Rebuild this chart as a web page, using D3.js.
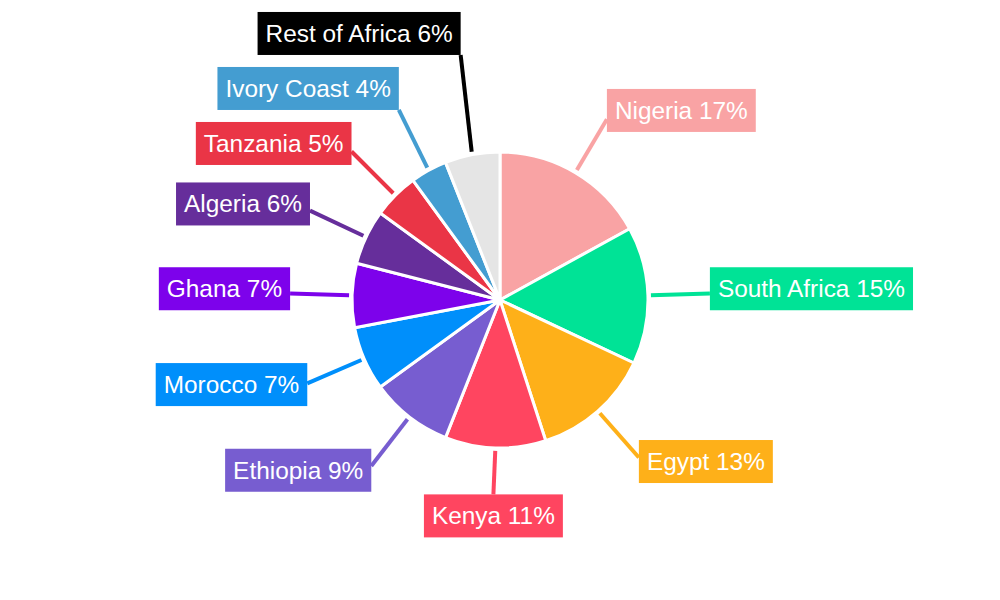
<!DOCTYPE html>
<html>
<head>
<meta charset="utf-8">
<script src="https://cdn.jsdelivr.net/npm/d3@7"></script>
<style>
  body { margin: 0; background: #fff; }
  svg { display: block; font-family: "Liberation Sans", Arial, sans-serif; }
</style>
</head>
<body>
<div id="chart"></div>
<script>
// pie of market share by country, labels outside with leader lines

const width = 1000;
const height = 600;

const countries = ["Nigeria", "South Africa", "Egypt", "Kenya", "Ethiopia", "Morocco",
                   "Ghana", "Algeria", "Tanzania", "Ivory Coast", "Rest of Africa"];
const shares = [17, 15, 13, 11, 9, 7, 7, 6, 5, 4, 6];
const sliceColors = ["#f9a3a4", "#00e396", "#feb019", "#ff4560", "#775dd0", "#008ffb",
                     "#7d02eb", "#662e9b", "#ea3546", "#449dd1", "#e5e5e5"];
const labelColors = ["#f9a3a4", "#00e396", "#feb019", "#ff4560", "#775dd0", "#008ffb",
                     "#7d02eb", "#662e9b", "#ea3546", "#449dd1", "#000000"];

const cx = 500, cy = 300;
const radius = 148;
const lineStart = 151;   // leader lines start just outside the pie
const labelRadius = 210; // where the label boxes sit
const pad = 8;           // padding inside label box
const gap = 12;          // min vertical gap between stacked boxes

const svg = d3.select("#chart")
  .append("svg")
  .attr("width", width)
  .attr("height", height);

const pie = d3.pie().sort(null).value(d => d);
const arcs = pie(shares);

const arc = d3.arc().innerRadius(0).outerRadius(radius);

const gLines = svg.append("g");
const gPie = svg.append("g").attr("transform", `translate(${cx},${cy})`);
const gLabels = svg.append("g");

gPie.selectAll("path")
  .data(arcs)
  .enter()
  .append("path")
  .attr("d", arc)
  .attr("fill", (d, i) => sliceColors[i])
  .attr("stroke", "#fff")
  .attr("stroke-width", 3)
  .attr("stroke-linejoin", "round");

// build the labels first so we can measure them
const labels = gLabels.selectAll("g.lbl")
  .data(arcs)
  .enter()
  .append("g")
  .attr("class", "lbl");

labels.append("rect").attr("fill", (d, i) => labelColors[i]);
labels.append("text")
  .attr("fill", "#fff")
  .attr("font-size", 24.4)
  .text((d, i) => countries[i] + " " + shares[i] + "%");

// work out where each box goes
const info = arcs.map((d, i) => {
  const a = (d.startAngle + d.endAngle) / 2;
  const s = Math.sin(a), c = Math.cos(a);
  const ax = cx + labelRadius * s;
  const ay = cy - labelRadius * c;
  const node = labels.nodes()[i];
  const bb = node.querySelector("text").getBBox();
  const w = bb.width + pad * 2;
  const h = bb.height + pad * 2;
  let side;
  if (Math.abs(c) > 0.99) side = "center";
  else side = s > 0 ? "right" : "left";
  const off = c > 0 ? -4.5 - 5 * c : -2 - 8 * c;
  return {i, a, s, c, ax, ay, w, h, bb, side, yc: ay + off};
});

// push boxes up so they don't overlap (going up from the bottom)
const left = info.filter(d => d.side === "left").sort((p, q) => p.a - q.a);
for (let k = 1; k < left.length; k++) {
  const prev = left[k - 1], cur = left[k];
  const maxY = prev.yc - (prev.h / 2 + cur.h / 2 + gap);
  if (cur.yc > maxY) cur.yc = maxY;
}
const right = info.filter(d => d.side === "right").sort((p, q) => q.a - p.a);
for (let k = 1; k < right.length; k++) {
  const prev = right[k - 1], cur = right[k];
  const maxY = prev.yc - (prev.h / 2 + cur.h / 2 + gap);
  if (cur.yc > maxY) cur.yc = maxY;
}

info.forEach(d => {
  let x0;
  if (d.side === "left") x0 = d.ax - d.w;
  else if (d.side === "right") x0 = d.ax;
  else x0 = d.ax - d.w / 2;
  const y0 = d.yc - d.h / 2;
  d.x0 = x0; d.y0 = y0;

  // end point of the leader line on the box edge
  let ex, ey;
  if (d.side === "center") {
    ex = d.ax;
    ey = d.c < 0 ? y0 : y0 + d.h;
  } else {
    ex = d.side === "left" ? x0 + d.w : x0;
    ey = Math.max(y0, Math.min(y0 + d.h, d.ay));
  }
  d.ex = ex; d.ey = ey;
});

gLines.selectAll("line")
  .data(info)
  .enter()
  .append("line")
  .attr("x1", d => cx + lineStart * d.s)
  .attr("y1", d => cy - lineStart * d.c)
  .attr("x2", d => d.ex)
  .attr("y2", d => d.ey)
  .attr("stroke", d => labelColors[d.i])
  .attr("stroke-width", 4);

labels.each(function(d, i) {
  const p = info[i];
  const g = d3.select(this);
  g.attr("transform", `translate(${p.x0},${p.y0})`);
  g.select("rect")
    .attr("width", p.w)
    .attr("height", p.h);
  g.select("text")
    .attr("x", pad - p.bb.x)
    .attr("y", pad - p.bb.y);
});
</script>
</body>
</html>
